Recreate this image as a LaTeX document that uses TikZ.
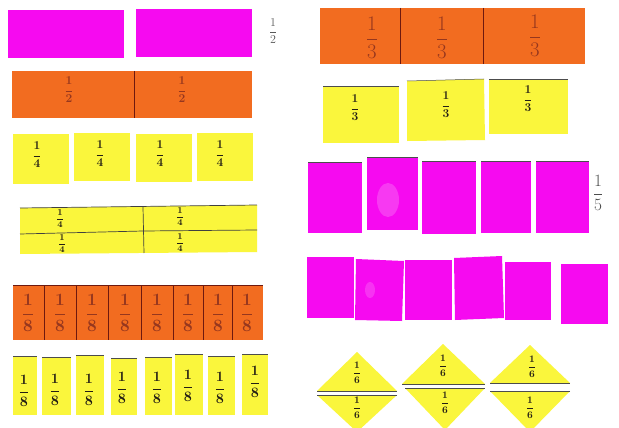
\documentclass[tikz,border=0pt]{standalone}
\usepackage{amsmath}
\definecolor{mag}{RGB}{246,10,240}
\definecolor{org}{RGB}{242,108,32}
\definecolor{yel}{RGB}{250,246,60}
\definecolor{ink}{RGB}{35,30,20}
\definecolor{brn}{RGB}{150,55,30}
\definecolor{divc}{RGB}{110,25,15}
\newcommand\myfrac[1]{$\dfrac{1}{#1}$}
\newcommand\fsz[1]{\fontsize{#1}{#1}\selectfont\boldmath}
\tikzset{
  magp/.style={fill=mag},
  orgp/.style={fill=org},
  yelp/.style={fill=yel},
  edge/.style={draw=black!70, line width=0.5pt},
  divl/.style={draw=divc, line width=0.9pt},
  ydiv/.style={draw=black!75, line width=0.7pt},
  lab/.style={inner sep=0pt, text=ink},
  olab/.style={inner sep=0pt, text=brn},
}
\begin{document}
\begin{tikzpicture}[x=1pt,y=-1pt]
\useasboundingbox (0,0) rectangle (619,428);
\fill[white] (0,0) rectangle (619,428);

% ---- halves (magenta)
\fill[magp] (8,10) rectangle (124,58);
\fill[magp] (136,9) rectangle (252,57);
\node[lab, text=black!65, font=\fontsize{12}{12}\selectfont] (lh) at (273,31) {\myfrac{2}};

% ---- halves (orange bar)
\fill[orgp] (12,71) rectangle (252,118);
\draw[divl] (134,71) -- (134,118);
\node[olab, font=\fsz{13}] (o2a) at (69,90) {\myfrac{2}};
\node[olab, font=\fsz{13}] (o2b) at (182,90) {\myfrac{2}};

% ---- quarters (yellow squares)
\fill[yelp] (13,134) rectangle (69,184);
\fill[yelp] (74,133) rectangle (130,181);
\fill[yelp] (136,134) rectangle (192,182);
\fill[yelp] (197,133) rectangle (253,181);
\node[lab, font=\fsz{12}] (q1) at (37,155) {\myfrac{4}};
\node[lab, font=\fsz{12}] (q2) at (100,154) {\myfrac{4}};
\node[lab, font=\fsz{12}] (q3) at (160,154) {\myfrac{4}};
\node[lab, font=\fsz{12}] (q4) at (220,154) {\myfrac{4}};

% ---- quarters (yellow bar)
\fill[yelp] (20,208) -- (257,205) -- (257,252) -- (20,254) -- cycle;
\draw[ydiv] (20,208) -- (257,205);
\draw[ydiv] (20,234) -- (143,231) -- (257,230);
\draw[ydiv] (143,207) -- (144,253);
\node[lab, font=\fsz{9}] (qb1) at (60,219) {\myfrac{4}};
\node[lab, font=\fsz{9}] (qb2) at (62,244) {\myfrac{4}};
\node[lab, font=\fsz{9}] (qb3) at (180,217) {\myfrac{4}};
\node[lab, font=\fsz{9}] (qb4) at (180,243) {\myfrac{4}};

% ---- eighths (orange bar)
\fill[orgp] (13,285) rectangle (263,340);
\draw[divc, line width=0.8pt] (13,285) -- (263,285);
\foreach \xx in {44,76,108,141,173,203,232}
  \draw[divl] (\xx,285) -- (\xx,340);
\foreach \xx/\nm in {28/e1,60/e2,92/e3,125/e4,157/e5,188/e6,218/e7,247/e8}
  \node[olab, font=\fsz{16}] (\nm) at (\xx,313) {\myfrac{8}};

% ---- eighths (yellow pieces)
\foreach \xa/\xb/\ya in {13/37/356,42/71/357,76/104/355,111/137/358,145/172/357,175/203/354,208/235/356,242/268/354}{
  \fill[yelp] (\xa,\ya) rectangle (\xb,415);
  \draw[edge] (\xa,\ya) -- (\xb,\ya);
}
\foreach \xx/\yy/\nm in {24/391/y1,55/390/y2,89/390/y3,122/388/y4,157/388/y5,188/386/y6,220/388/y7,255/382/y8}
  \node[lab, font=\fsz{14}] (\nm) at (\xx,\yy) {\myfrac{8}};

% ---- thirds (orange bar)
\fill[orgp] (320,8) rectangle (585,64);
\draw[divl] (400,8) -- (400,64);
\draw[divl] (483,8) -- (483,64);
\node[olab, font=\fontsize{22}{22}\selectfont] (t1) at (372,38) {\myfrac{3}};
\node[olab, font=\fontsize{22}{22}\selectfont] (t2) at (442,38) {\myfrac{3}};
\node[olab, font=\fontsize{22}{22}\selectfont] (t3) at (535,36) {\myfrac{3}};

% ---- thirds (yellow squares)
\fill[yelp] (323,86) rectangle (399,143);
\fill[yelp] (407,81) -- (484,79) -- (485,140) -- (407,141) -- cycle;
\fill[yelp] (489,79) rectangle (568,134);
\draw[edge] (323,86) -- (399,86);
\draw[edge] (407,81) -- (484,79);
\draw[edge] (489,79) -- (568,79);
\node[lab, font=\fsz{12}] (ty1) at (355,108) {\myfrac{3}};
\node[lab, font=\fsz{12}] (ty2) at (446,105) {\myfrac{3}};
\node[lab, font=\fsz{12}] (ty3) at (528,99) {\myfrac{3}};

% ---- fifths (magenta)
\fill[magp] (308,162) rectangle (362,233);
\fill[magp] (367,157) rectangle (418,230);
\fill[mag!45!white, opacity=0.35] (388,200) ellipse (11pt and 17pt);
\fill[magp] (422,161) rectangle (476,234);
\fill[magp] (481,161) rectangle (531,233);
\fill[magp] (536,161) rectangle (589,233);
\foreach \xa/\xb/\ya in {308/362/162,367/418/157,422/476/161,481/531/161,536/589/161}
  \draw[edge] (\xa,\ya) -- (\xb,\ya);
\node[lab, text=black!70, font=\fontsize{16}{16}\selectfont] (f5) at (598,193) {\myfrac{5}};

% ---- sixths (magenta)
\fill[magp] (307,257) rectangle (354,318);
\fill[magp] (356,259) -- (404,261) -- (402,321) -- (355,320) -- cycle;
\fill[mag!45!white, opacity=0.3] (370,290) ellipse (5pt and 8pt);
\fill[magp] (405,260) rectangle (452,320);
\fill[magp] (454,258) -- (502,256) -- (504,318) -- (455,320) -- cycle;
\fill[magp] (505,262) rectangle (551,320);
\fill[magp] (561,264) rectangle (608,324);

% ---- sixths (yellow diamonds)
\fill[yelp] (357,352) -- (397,391) -- (317,391) -- cycle;
\fill[yelp] (317,395) -- (397,395) -- (357,432) -- cycle;
\draw[edge] (317,391) -- (397,391);
\draw[edge] (317,395) -- (397,395);
\fill[yelp] (443,344) -- (485,384) -- (402,384) -- cycle;
\fill[yelp] (405,388) -- (485,388) -- (445,430) -- cycle;
\draw[edge] (402,384) -- (485,384);
\draw[edge] (405,388) -- (485,388);
\fill[yelp] (530,345) -- (570,383) -- (490,383) -- cycle;
\fill[yelp] (490,391) -- (570,391) -- (530,432) -- cycle;
\draw[edge] (490,383) -- (570,383);
\draw[edge] (490,391) -- (570,391);
\node[lab, font=\fsz{10}] (d1a) at (357,373) {\myfrac{6}};
\node[lab, font=\fsz{10}] (d1b) at (357,408) {\myfrac{6}};
\node[lab, font=\fsz{10}] (d2a) at (443,366) {\myfrac{6}};
\node[lab, font=\fsz{10}] (d2b) at (445,403) {\myfrac{6}};
\node[lab, font=\fsz{10}] (d3a) at (532,367) {\myfrac{6}};
\node[lab, font=\fsz{10}] (d3b) at (530,408) {\myfrac{6}};
\end{tikzpicture}
\end{document}
